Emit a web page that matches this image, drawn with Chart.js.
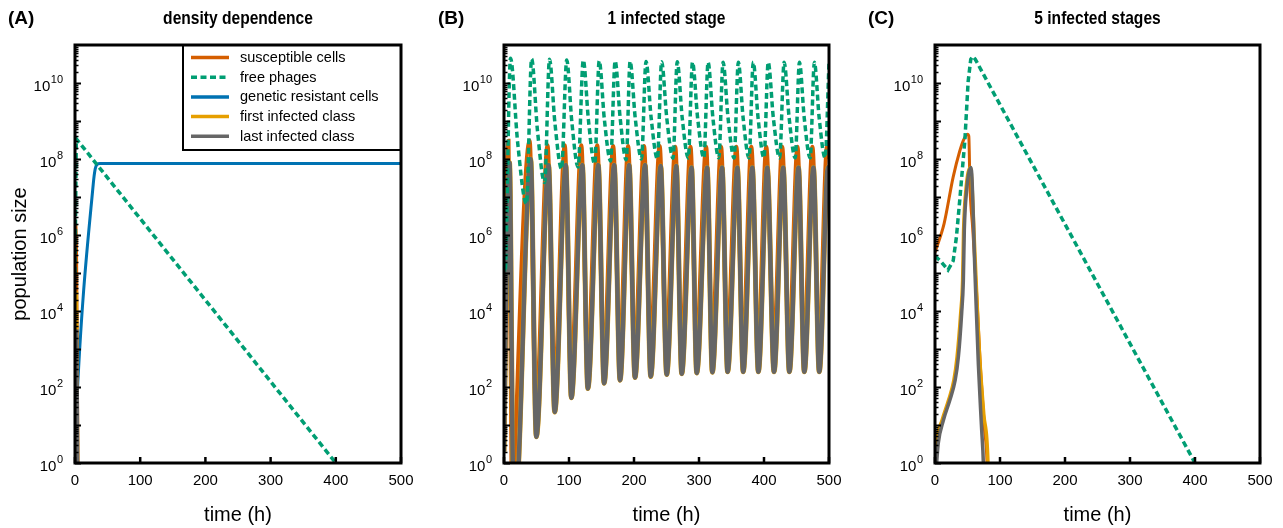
<!DOCTYPE html>
<html>
<head>
<meta charset="utf-8">
<script src="https://cdn.jsdelivr.net/npm/chart.js@4.4.1/dist/chart.umd.min.js"></script>
<style>
html, body { margin: 0; padding: 0; background: #fff; }
#wrap { position: relative; width: 1283px; height: 528px; overflow: hidden; }
.panel { position: absolute; top: 0; height: 528px; }
</style>
</head>
<body>
<div id="wrap">
  <div class="panel" style="left:0px;width:430px"><canvas id="chartA" width="430" height="528"></canvas></div>
  <div class="panel" style="left:430px;width:430px"><canvas id="chartB" width="430" height="528"></canvas></div>
  <div class="panel" style="left:860px;width:423px"><canvas id="chartC" width="423" height="528"></canvas></div>
</div>
<script>
// ---- data: [time (h), population size] ----
const xTicks = [0, 100, 200, 300, 400, 500];
const yExponents = [0, 2, 4, 6, 8, 10];
const seriesNames = ['susceptible cells', 'free phages', 'genetic resistant cells', 'first infected class', 'last infected class'];

// (A) density dependence
const susA = [[0,1e5],[1,2e6],[2.5,2e5],[4.5,1],[5.5,0.02]];
const phageA = [[0,1e5],[2,3.4e8],[400,1],[420,0.3]];
const resistA = [[0,2],[2,20],[28,2.2e7],[31,5.5e7],[34,7.3e7],[38,7.6e7],[500,7.6e7]];
const firstA = [[0,1],[1.5,1e4],[2.5,3e4],[4,10],[5,0.02]];
const lastA = [[0,0.5],[2,1e3],[3,3e3],[4.5,1],[5.5,0.02]];

// (B) 1 infected stage
const susB = [[0,3.5e5],[7,3e8],[11.5,1],[14,0.03],[16.5,1],[39.5,3e8],[49,25],[67,2.3e8],[77.5,100],
  [93.5,2.3e8],[103,200],[119,2.3e8],[128.5,400],[143.5,2.3e8],[153.5,620],[168,2.2e8],[178,830],
  [191,2.2e8],[201,910],[215.5,2.2e8],[225,1000],[239.5,2.2e8],[249.5,1120],[263.5,2.1e8],[273,1260],
  [287,2.1e8],[296,1380],[311,2.1e8],[320,1400],[334,2.1e8],[343.5,1400],[357.5,2.1e8],[367.5,1400],
  [380.5,2.1e8],[391,1400],[403.5,2.1e8],[415,1400],[428,2.1e8],[438.5,1400],[451.5,2.1e8],[461.5,1400],
  [474.5,2.1e8],[484.5,1400],[497,2.1e8],[500,1e8]];
const phageB = [[0,1.4e5],[1.5,1e5],[10,4.5e10],[21,2.7e8],[34.5,6.6e6],
  [42.5,4.3e10],[51.5,5.6e8],[62.5,2.4e7],[70,4.2e10],[78.3,9e8],[88.5,5.5e7],
  [96.5,4e10],[104.4,9.3e8],[114,6.2e7],[122,4e10],[129.9,1.05e9],[139.5,7.4e7],
  [146.5,3.8e10],[154.4,1.1e9],[164,8.9e7],[171,3.8e10],[178.7,1.2e9],[188,9.5e7],
  [194,3.7e10],[201.9,1.2e9],[211.5,1e8],[218.5,3.7e10],[226.4,1.2e9],[236,1e8],
  [242.5,3.6e10],[250.4,1.2e9],[260,1.05e8],[266.5,3.6e10],[274.2,1.2e9],[283.5,1.07e8],
  [290,3.5e10],[297.9,1.2e9],[307.5,1.07e8],[314,3.5e10],[321.4,1.2e9],[330.5,1.07e8],
  [337,3.5e10],[344.7,1.2e9],[354,1.07e8],[360.5,3.5e10],[367.9,1.2e9],[377,1.07e8],
  [383.5,3.5e10],[390.9,1.2e9],[400,1.07e8],[406.5,3.5e10],[414.4,1.2e9],[424,1.07e8],
  [431,3.5e10],[438.7,1.2e9],[448,1.07e8],[454.5,3.5e10],[461.9,1.2e9],[471,1.07e8],
  [477.5,3.5e10],[484.9,1.2e9],[494,1.07e8],[500,3.5e10]];
const lastB = [[0,2],[3.5,6e4],[8.5,8e7],[13.5,1],[18,0.03],[22.5,1],[41,1e8],[49.7,4.9],
  [68.5,7e7],[78,22],[95,7e7],[103.6,52],[120.5,7e7],[129,91],[145,7e7],[154,126],[169.5,7e7],
  [178.5,151],[192.5,7e7],[201.5,178],[217,7e7],[225.7,190],[241,6.5e7],[250.3,214],[265,6.5e7],
  [273.4,224],[288.5,6e7],[296.5,234],[312.5,6e7],[320.5,245],[335.5,6e7],[344,251],[359,6e7],
  [368,251],[382,6e7],[391.3,251],[405,6e7],[415.4,251],[429.5,6e7],[439,251],[453,6e7],
  [462,251],[476,6e7],[485,251],[498.5,6e7],[500,4e7]];
const firstB = lastB;

// (C) 5 infected stages
const susC = [[0,3.5e5],[14,2e6],[28,3.4e7],[38,1.6e8],[44,3.2e8],[50,4.5e8],[52,4e8],[53.8,1.9e7],
  [58,1.5e6],[64,3e4],[70,300],[76,8],[80,1],[81.5,0.05]];
const phageC = [[0,2.8e5],[8,2.1e5],[20,1.2e5],[28,2.1e5],[33,9e5],[38.5,1e7],[46,3.2e8],
  [51,1.1e10],[55,4.2e10],[58,5e10],[62,4.2e10],[400,1],[420,0.3]];
const firstC = [[0,1],[2,3.3],[11,13.5],[21,46],[29,150],[34,630],[39.5,8.7e3],[42.5,6.3e4],
  [44,1.35e6],[47.5,1.5e7],[54.5,6e7],[61.5,3e5],[68,1e3],[75,20],[81.5,1],[83,0.05]];
const lastC = [[2.5,1],[5,3.3],[13,13.5],[23,46],[31,150],[36,630],[41,8.7e3],[43.6,6.3e4],
  [45.1,1.35e6],[48.7,1.5e7],[55.4,6e7],[61.5,1e5],[66.7,400],[71.8,7.4],[74.4,1],[76,0.05]];

// ---- styles ----
const FONT = '"Liberation Sans", Arial, Helvetica, sans-serif';
const COLORS = ['#D55E00', '#009E73', '#0072B2', '#E69F00', '#666666'];
const DRAW_ORDER = [3, 0, 4, 2, 1]; // lower = on top
const DASH = [6, 3.5];

function series(idx, pts, width, smooth) {
  const dashed = idx === 1;
  return {
    label: seriesNames[idx],
    data: pts.map(p => ({ x: p[0], y: p[1] })),
    borderColor: COLORS[idx],
    borderWidth: width,
    borderDash: dashed ? DASH : [],
    pointRadius: 0,
    fill: false,
    tension: 0,
    cubicInterpolationMode: (smooth || !dashed) ? 'monotone' : 'default',
    order: DRAW_ORDER[idx],
    clip: 0
  };
}

const framePlugin = {
  id: 'frame',
  afterDatasetsDraw(chart, args, opts) {
    const { ctx, chartArea: a, scales: { x, y } } = chart;
    ctx.save();
    ctx.strokeStyle = '#000';
    // inward ticks on left axis
    for (let e = 0; e <= 10; e++) {
      for (let m = 1; m < 10; m++) {
        const py = Math.round(y.getPixelForValue(m * Math.pow(10, e))) + 0.5;
        ctx.lineWidth = m === 1 ? 2 : 1.5;
        ctx.beginPath();
        ctx.moveTo(a.left, py);
        ctx.lineTo(a.left + (m === 1 ? 6 : 3.5), py);
        ctx.stroke();
      }
    }
    // inward ticks on bottom axis
    ctx.lineWidth = 2.5;
    xTicks.forEach(v => {
      const px = x.getPixelForValue(v);
      ctx.beginPath();
      ctx.moveTo(px, a.bottom);
      ctx.lineTo(px, a.bottom - 6);
      ctx.stroke();
    });
    // legend
    if (opts.legend) {
      const bl = a.right - 218, bt = a.top, bw = 218, bh = 105;
      ctx.fillStyle = '#fff';
      ctx.fillRect(bl, bt, bw, bh);
      ctx.lineWidth = 2;
      ctx.strokeRect(bl, bt, bw, bh);
      ctx.font = `14.5px ${FONT}`;
      ctx.textBaseline = 'middle';
      ctx.textAlign = 'left';
      seriesNames.forEach((name, i) => {
        const ly = bt + 12.5 + i * 19.7;
        ctx.strokeStyle = COLORS[i];
        ctx.lineWidth = 3.5;
        ctx.setLineDash(i === 1 ? DASH : []);
        ctx.beginPath();
        ctx.moveTo(bl + 8, ly);
        ctx.lineTo(bl + 46, ly);
        ctx.stroke();
        ctx.setLineDash([]);
        ctx.fillStyle = '#000';
        ctx.fillText(name, bl + 57, ly + 0.5);
      });
      ctx.strokeStyle = '#000';
    }
    // frame
    ctx.lineWidth = 3;
    ctx.strokeStyle = '#000';
    ctx.strokeRect(a.left, a.top, a.right - a.left, a.bottom - a.top);
    ctx.restore();
  },
  afterDraw(chart, args, opts) {
    const { ctx, chartArea: a, scales: { y } } = chart;
    ctx.save();
    ctx.fillStyle = '#000';
    ctx.textBaseline = 'middle';
    // y tick labels: 10^n
    yExponents.forEach(e => {
      const py = y.getPixelForValue(Math.pow(10, e));
      const ex = String(e);
      ctx.textAlign = 'right';
      ctx.font = `11px ${FONT}`;
      ctx.fillText(ex, a.left - 12, py - 3);
      const w = ctx.measureText(ex).width;
      ctx.font = `15px ${FONT}`;
      ctx.fillText('10', a.left - 12 - w - 0.5, py + 4);
    });
    const cx = (a.left + a.right) / 2;
    // x title
    ctx.textAlign = 'center';
    ctx.font = `20px ${FONT}`;
    ctx.fillText('time (h)', cx, 515);
    // panel letter
    ctx.font = `bold 19px ${FONT}`;
    ctx.textAlign = 'left';
    ctx.fillText(opts.letter, 8, 19);
    // panel title, slightly condensed like the original
    ctx.save();
    ctx.translate(cx, 19);
    ctx.scale(0.82, 1);
    ctx.textAlign = 'center';
    ctx.font = `bold 19px ${FONT}`;
    ctx.fillText(opts.title, 0, 0);
    ctx.restore();
    // y title
    if (opts.yTitle) {
      ctx.translate(20, (a.top + a.bottom) / 2);
      ctx.rotate(-Math.PI / 2);
      ctx.textAlign = 'center';
      ctx.font = `20px ${FONT}`;
      ctx.fillText(opts.yTitle, 0, 0);
    }
    ctx.restore();
  }
};

function makePanel(id, datasets, pad, frameOpts) {
  return new Chart(document.getElementById(id), {
    type: 'line',
    data: { datasets },
    options: {
      responsive: false,
      animation: false,
      layout: { padding: { left: pad[0], right: pad[1], top: 45, bottom: 0 } },
      plugins: { legend: { display: false }, tooltip: { enabled: false }, frame: frameOpts },
      scales: {
        x: {
          type: 'linear', min: 0, max: 500,
          afterBuildTicks: s => { s.ticks = xTicks.map(v => ({ value: v })); },
          afterFit: s => { s.height = 65; },
          grid: { display: false, drawTicks: false },
          border: { display: false },
          ticks: { padding: 9, color: '#000', font: { family: FONT, size: 15 }, maxRotation: 0, autoSkip: false }
        },
        y: { type: 'logarithmic', min: 1, max: 1e11, display: false }
      }
    },
    plugins: [framePlugin]
  });
}

makePanel('chartA', [
  series(0, susA, 3), series(1, phageA, 3.5), series(2, resistA, 3),
  series(3, firstA, 3), series(4, lastA, 3)
], [75, 29], { title: 'density dependence', letter: '(A)', yTitle: 'population size', legend: true });

makePanel('chartB', [
  series(0, susB, 4), series(1, phageB, 3.5, true), series(3, firstB, 5), series(4, lastB, 4.5)
], [74, 31], { title: '1 infected stage', letter: '(B)' });

makePanel('chartC', [
  series(0, susC, 3), series(1, phageC, 3.5), series(3, firstC, 3.5), series(4, lastC, 3.5)
], [75, 23], { title: '5 infected stages', letter: '(C)' });
</script>
</body>
</html>
